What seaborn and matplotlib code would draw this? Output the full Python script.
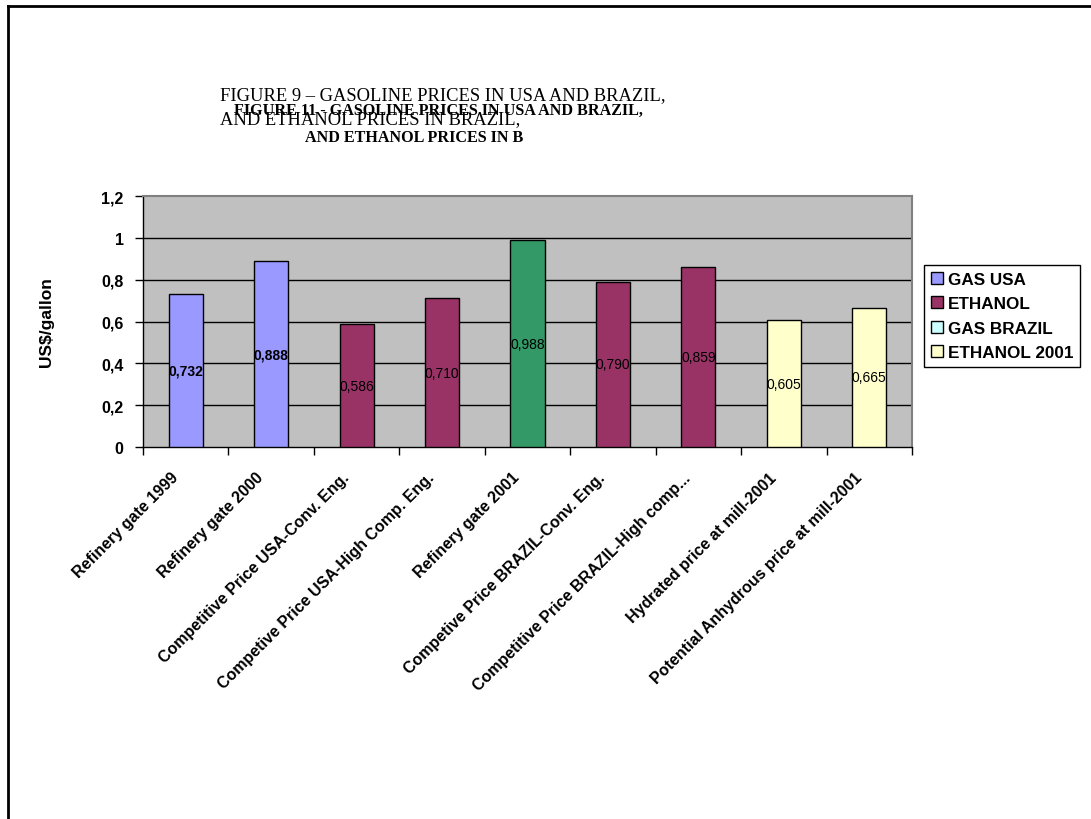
import matplotlib
matplotlib.use('Agg')
import matplotlib.pyplot as plt
import matplotlib.transforms as mtransforms
from matplotlib.patches import Patch
from matplotlib.lines import Line2D
import seaborn as sns

categories = ['Refinery gate 1999', 'Refinery gate 2000',
              'Competitive Price USA-Conv. Eng.',
              'Competive Price USA-High Comp. Eng.',
              'Refinery gate 2001', 'Competive Price BRAZIL-Conv. Eng.',
              'Competitive Price BRAZIL-High comp...',
              'Hydrated price at mill-2001',
              'Potential Anhydrous price at mill-2001']
values = [0.732, 0.888, 0.586, 0.710, 0.988, 0.790, 0.859, 0.605, 0.665]
bar_colors = ['#9999FF', '#9999FF', '#993366', '#993366', '#339966',
              '#993366', '#993366', '#FFFFCC', '#FFFFCC']
bold_labels = [True, True, False, False, False, False, False, False, False]

legend_names = ['GAS USA', 'ETHANOL', 'GAS BRAZIL', 'ETHANOL 2001']
legend_colors = ['#9999FF', '#993366', '#CCFFFF', '#FFFFCC']

yticks = [0, 0.2, 0.4, 0.6, 0.8, 1.0, 1.2]
ytick_labels = ['0', '0,2', '0,4', '0,6', '0,8', '1', '1,2']

plt.rcParams['font.family'] = ['Liberation Sans', 'DejaVu Sans']

W, H = 1091, 820
fig = plt.figure(figsize=(W / 100, H / 100), dpi=100)
ax = fig.add_axes([143 / W, 1 - 448 / H, (912 - 143) / W, (448 - 197) / H])
ax.set_facecolor('#C0C0C0')

sns.barplot(x=categories, y=values, hue=categories, palette=bar_colors,
            legend=False, width=0.4, edgecolor='black', linewidth=1,
            saturation=1, ax=ax, zorder=3)

ax.set_xlim(-0.5, len(categories) - 0.5)
ax.set_ylim(0, 1.2)
ax.set_yticks(yticks)
ax.set_yticklabels(ytick_labels, fontsize=11.5, fontweight='bold')
ax.tick_params(axis='y', length=6, width=1, direction='out', pad=8)
for y in yticks[1:-1]:
    ax.axhline(y, color='black', linewidth=1, zorder=1)

# value labels in the middle of each bar
for i, v in enumerate(values):
    lab = f'{v:.3f}'.replace('.', ',')
    ax.text(i, v / 2, lab, ha='center', va='center', fontsize=10,
            fontweight='bold' if bold_labels[i] else 'normal', zorder=5)

# category labels, ticks between categories
ax.set_xticks(range(len(categories)))
ax.set_xticklabels(categories, rotation=45, ha='right', va='center',
                   rotation_mode='anchor', fontsize=11.5, fontweight='bold')
ax.tick_params(axis='x', which='major', length=0, pad=20)
ax.set_xticks([i - 0.5 for i in range(len(categories) + 1)], minor=True)
ax.tick_params(axis='x', which='minor', length=6, width=1, direction='out')
shift = mtransforms.ScaledTranslation(-10 / 100, 0, fig.dpi_scale_trans)
for t in ax.get_xticklabels():
    t.set_transform(t.get_transform() + shift)

ax.set_xlabel('')
ax.set_ylabel('US$/gallon', fontsize=12.5, fontweight='bold', labelpad=34)

for s in ['top', 'right']:
    ax.spines[s].set_color('#808080')
    ax.spines[s].set_linewidth(1.5)
for s in ['left', 'bottom']:
    ax.spines[s].set_color('black')
    ax.spines[s].set_linewidth(1)

handles = [Patch(facecolor=c, edgecolor='black', linewidth=1) for c in legend_colors]
leg = fig.legend(handles, legend_names, loc='upper left',
                 bbox_to_anchor=(924 / W, 1 - 266 / H), borderaxespad=0,
                 prop={'weight': 'bold', 'size': 12.3},
                 handlelength=0.7, handleheight=0.7, handletextpad=0.3,
                 labelspacing=0.55, borderpad=0.4, fancybox=False,
                 framealpha=1, edgecolor='black')
leg.get_frame().set_linewidth(1)

# overlapping titles, as in the source chart
serif = ['Liberation Serif', 'DejaVu Serif']
fig.text(220 / W, 1 - 100 / H, 'FIGURE 9 \u2013 GASOLINE PRICES IN USA AND BRAZIL,',
         family=serif, fontsize=13.3, ha='left', va='baseline')
fig.text(220 / W, 1 - 124 / H, 'AND ETHANOL PRICES IN BRAZIL,',
         family=serif, fontsize=13.3, ha='left', va='baseline')
fig.text(438 / W, 1 - 115 / H, 'FIGURE 11 - GASOLINE PRICES IN USA AND BRAZIL,',
         family=serif, fontsize=11.6, fontweight='bold', ha='center', va='baseline')
fig.text(305 / W, 1 - 142 / H, 'AND ETHANOL PRICES IN B',
         family=serif, fontsize=11.6, fontweight='bold', ha='left', va='baseline')

# outer frame of the chart area
fig.add_artist(Line2D([8 / W, 1], [1 - 7 / H, 1 - 7 / H], color='black', linewidth=2))
fig.add_artist(Line2D([8 / W, 8 / W], [0, 1 - 7 / H], color='black', linewidth=2))

fig.savefig('out.png', dpi=100)
